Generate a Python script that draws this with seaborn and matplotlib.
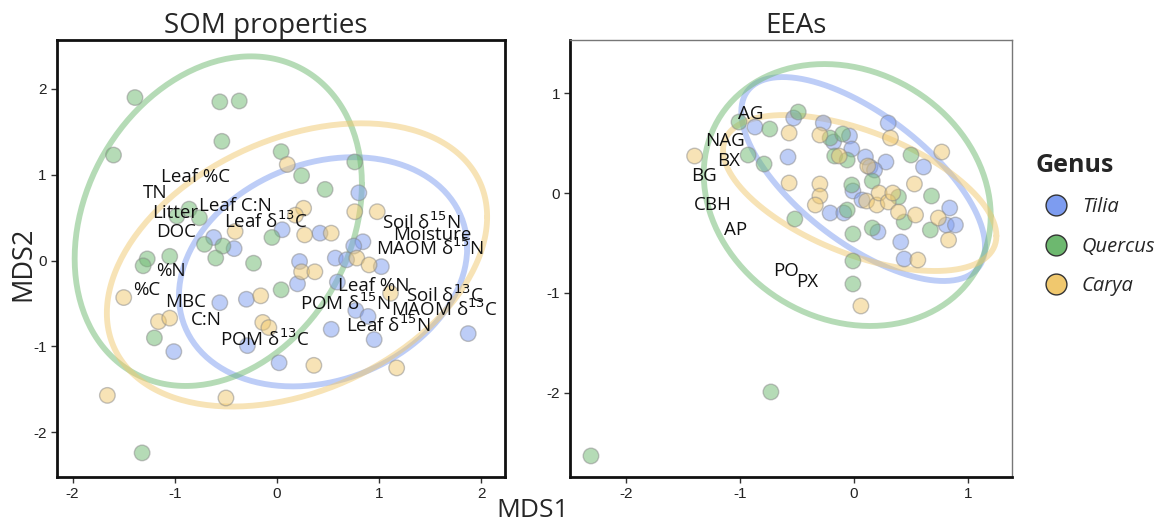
import numpy as np
import pandas as pd
import matplotlib
matplotlib.use("Agg")
import matplotlib.pyplot as plt
from matplotlib.lines import Line2D
import seaborn as sns

# ---------------- data ----------------
genera = ["Tilia", "Quercus", "Carya"]
colors = {"Tilia": "#7d9cf0", "Quercus": "#6db86f", "Carya": "#f0c86e"}

# SOM properties (left panel)
som_tilia_x = [0.80, 0.05, 0.42, 0.84, 0.75, -0.42, 0.22, 0.57, 0.68, 1.02, 0.20, 0.59,
               -0.56, -0.30, 0.77, 0.89, 0.53, 0.95, 1.87, -1.01, -0.29, 0.02, -0.62]
som_tilia_y = [0.79, 0.36, 0.32, 0.22, 0.17, 0.14, -0.01, 0.03, 0.01, -0.07, -0.27, -0.25,
               -0.49, -0.45, -0.58, -0.65, -0.80, -0.92, -0.85, -1.06, -0.99, -1.19, 0.27]
som_quercus_x = [-1.39, -0.56, -0.37, -0.54, -1.60, 0.04, 0.24, 0.47, 0.76, -0.86, -0.98, -0.76,
                 -0.05, -0.71, -0.53, -0.60, -0.23, -1.27, -1.05, -1.31, 0.04, -1.20, -1.32]
som_quercus_y = [1.90, 1.85, 1.86, 1.39, 1.23, 1.27, 0.99, 0.83, 1.15, 0.60, 0.52, 0.50,
                 0.27, 0.19, 0.17, 0.03, -0.03, 0.02, 0.05, -0.06, -0.34, -0.90, -2.24]
som_carya_x = [0.10, 0.26, 0.18, 0.27, 0.53, -0.41, 0.76, 0.98, 0.78, 0.90, 0.24, 0.37,
               -0.16, -0.14, -0.08, -1.50, -1.16, -1.05, -1.66, -0.50, 0.36, 1.17, 1.11]
som_carya_y = [1.12, 0.61, 0.53, 0.30, 0.32, 0.34, 0.57, 0.57, 0.03, -0.05, -0.13, -0.13,
               -0.41, -0.72, -0.78, -0.43, -0.71, -0.67, -1.57, -1.60, -1.22, -1.25, -0.38]

# 95% ellipses per genus: centre, half-extent along x and y, correlation
som_ell_cx = [0.45, -0.575, 0.195]
som_ell_cy = [-0.13, 0.46, -0.05]
som_ell_hx = [1.41, 1.405, 1.86]
som_ell_hy = [1.335, 1.92, 1.65]
som_ell_r = [0.21, 0.227, 0.34]

som_labels = ["Leaf %C", "TN", "Litter", "Leaf C:N", r"Leaf δ$^{13}$C", "DOC", "%N", "%C",
              "MBC", "C:N", r"POM δ$^{13}$C", r"Soil δ$^{15}$N", "Moisture", r"MAOM δ$^{15}$N",
              "Leaf %N", r"Soil δ$^{13}$C", r"POM δ$^{15}$N", r"MAOM δ$^{13}$C", r"Leaf δ$^{15}$N"]
som_label_x = [-0.80, -1.19, -1.00, -0.41, -0.11, -0.99, -1.04, -1.27, -0.89, -0.69, -0.12,
               1.41, 1.52, 1.50, 0.95, 1.64, 0.67, 1.64, 1.09]
som_label_y = [0.97, 0.79, 0.55, 0.64, 0.46, 0.33, -0.12, -0.34, -0.48, -0.69, -0.92,
               0.45, 0.30, 0.14, -0.30, -0.40, -0.50, -0.57, -0.75]

# EEAs (right panel)
eea_tilia_x = [-0.87, -0.53, -0.58, -0.27, -0.18, -0.04, -0.02, 0.10, 0.28, 0.14, 0.18, 0.30,
               0.61, -0.21, -0.09, -0.01, 0.07, 0.84, 0.81, 0.89, 0.21, 0.41, 0.44]
eea_tilia_y = [0.66, 0.75, 0.36, 0.70, 0.51, 0.57, 0.44, 0.36, 0.31, 0.26, 0.23, 0.70,
               0.26, -0.20, -0.20, 0.02, -0.07, -0.15, -0.32, -0.32, -0.39, -0.49, -0.66]
eea_quercus_x = [-1.01, -0.74, -0.93, -0.79, -0.49, -0.52, -0.21, -0.10, -0.17, -0.06, 0.50, 0.16,
                 -0.06, -0.02, 0.39, 0.68, 0.44, 0.67, -0.01, 0.16, -0.01, -0.01, -0.73, -2.31]
eea_quercus_y = [0.71, 0.64, 0.38, 0.29, 0.81, -0.26, 0.55, 0.59, 0.37, 0.33, 0.38, 0.12,
                 -0.17, 0.08, -0.04, -0.03, -0.29, -0.37, -0.41, -0.35, -0.68, -0.91, -1.99, -2.63]
eea_carya_x = [-1.40, -0.57, -0.57, -0.30, -0.13, 0.32, 0.77, -0.30, -0.30, -0.34, 0.11, 0.20,
               0.22, 0.30, 0.34, 0.39, 0.53, 0.54, 0.83, 0.56, 0.06, 0.12, 0.74]
eea_carya_y = [0.37, 0.60, 0.10, 0.58, 0.37, 0.55, 0.41, 0.09, -0.03, -0.12, -0.08, -0.12,
               0.00, -0.09, 0.00, -0.19, 0.09, -0.22, -0.47, -0.67, -1.13, 0.27, -0.25]

eea_ell_cx = [0.08, -0.06, 0.05]
eea_ell_cy = [0.14, -0.02, 0.0]
eea_ell_hx = [1.07, 1.26, 1.20]
eea_ell_hy = [1.02, 1.31, 0.78]
eea_ell_r = [-0.66, -0.16, -0.55]

eea_labels = ["AG", "NAG", "BX", "BG", "CBH", "AP", "PO", "PX"]
eea_label_x = [-0.91, -1.13, -1.10, -1.32, -1.24, -1.04, -0.60, -0.41]
eea_label_y = [0.79, 0.52, 0.32, 0.17, -0.12, -0.37, -0.78, -0.89]


def make_df(tx, ty, qx, qy, cx, cy):
    parts = []
    for g, xs, ys in (("Tilia", tx, ty), ("Quercus", qx, qy), ("Carya", cx, cy)):
        parts.append(pd.DataFrame({"MDS1": xs, "MDS2": ys, "Genus": g}))
    return pd.concat(parts, ignore_index=True)


som_df = make_df(som_tilia_x, som_tilia_y, som_quercus_x, som_quercus_y, som_carya_x, som_carya_y)
eea_df = make_df(eea_tilia_x, eea_tilia_y, eea_quercus_x, eea_quercus_y, eea_carya_x, eea_carya_y)


def ellipse_path(cx, cy, hx, hy, r, segments=240):
    t = np.linspace(0, 2 * np.pi, segments + 1)
    x = cx + hx * np.cos(t)
    y = cy + hy * (r * np.cos(t) + np.sqrt(1 - r * r) * np.sin(t))
    return x, y


# ---------------- figure ----------------
sns.set_theme(style="white")
plt.rcParams["font.family"] = ["DejaVu Sans"]
plt.rcParams["axes.unicode_minus"] = False
label_font = ["Open Sans", "DejaVu Sans"]
tick_font = ["Liberation Sans", "DejaVu Sans"]

fig = plt.figure(figsize=(11.69, 5.27), dpi=100)
axL = fig.add_axes([0.049, 0.095, 0.383, 0.829])
axR = fig.add_axes([0.488, 0.095, 0.378, 0.829])


def draw_panel(ax, df, ell, labels, lx, ly, title, title_x):
    sns.scatterplot(data=df, x="MDS1", y="MDS2", hue="Genus", hue_order=genera,
                    palette=colors, s=125, alpha=0.5, edgecolor="#888888",
                    linewidth=1.0, legend=False, ax=ax, zorder=3)
    for g, cx, cy, hx, hy, r in zip(genera, *ell):
        ex, ey = ellipse_path(cx, cy, hx, hy, r)
        ax.plot(ex, ey, color=colors[g], lw=4.2, alpha=0.5, zorder=2)
    for t, x, y in zip(labels, lx, ly):
        ax.text(x, y, t, ha="center", va="center", fontsize=13.5,
                family=label_font, color="#111111", zorder=5)
    ax.set_title(title, fontsize=20, family=label_font, pad=5, x=title_x)
    ax.set_xlabel("")
    ax.set_ylabel("")
    ax.tick_params(axis="both", which="both", direction="out", length=4, width=1,
                   color="#333333", labelsize=11, labelcolor="#222222",
                   bottom=True, left=True)
    for lab in ax.get_xticklabels() + ax.get_yticklabels():
        lab.set_family(tick_font)


axL.set_xlim(-2.15, 2.23)
axL.set_ylim(-2.52, 2.57)
axL.set_xticks([-2, -1, 0, 1, 2])
axL.set_yticks([-2, -1, 0, 1, 2])
axR.set_xlim(-2.49, 1.39)
axR.set_ylim(-2.84, 1.53)
axR.set_xticks([-2, -1, 0, 1])
axR.set_yticks([-2, -1, 0, 1])

draw_panel(axL, som_df, (som_ell_cx, som_ell_cy, som_ell_hx, som_ell_hy, som_ell_r),
           som_labels, som_label_x, som_label_y, "SOM properties", 0.465)
draw_panel(axR, eea_df, (eea_ell_cx, eea_ell_cy, eea_ell_hx, eea_ell_hy, eea_ell_r),
           eea_labels, eea_label_x, eea_label_y, "EEAs", 0.51)

axL.set_xlim(-2.15, 2.23)
axL.set_ylim(-2.52, 2.57)
axR.set_xlim(-2.49, 1.39)
axR.set_ylim(-2.84, 1.53)

for s in axL.spines.values():
    s.set_color("#111111")
    s.set_linewidth(2)
for side in ("left", "bottom"):
    axR.spines[side].set_color("#111111")
    axR.spines[side].set_linewidth(2)
for side in ("top", "right"):
    axR.spines[side].set_color("#777777")
    axR.spines[side].set_linewidth(1)

fig.text(0.020, 0.50, "MDS2", rotation=90, ha="center", va="center",
         fontsize=19.5, family=label_font)
fig.text(0.456, 0.032, "MDS1", ha="center", va="center", fontsize=19, family=label_font)

handles = [Line2D([0], [0], marker="o", linestyle="", markersize=15,
                  markerfacecolor=colors[g], markeredgecolor="#333333",
                  markeredgewidth=1.0, label=g) for g in genera]
leg = fig.legend(handles=handles, title="Genus", loc="upper left",
                 bbox_to_anchor=(0.879, 0.725), frameon=False,
                 prop={"style": "italic", "size": 14.5, "family": label_font},
                 handletextpad=0.3, labelspacing=0.95, borderaxespad=0)
leg.get_title().set_fontweight("bold")
leg.get_title().set_fontsize(18)
leg.get_title().set_family(label_font)
leg._legend_box.align = "left"
leg._legend_box.sep = 14

fig.savefig("out.png", dpi=100)
